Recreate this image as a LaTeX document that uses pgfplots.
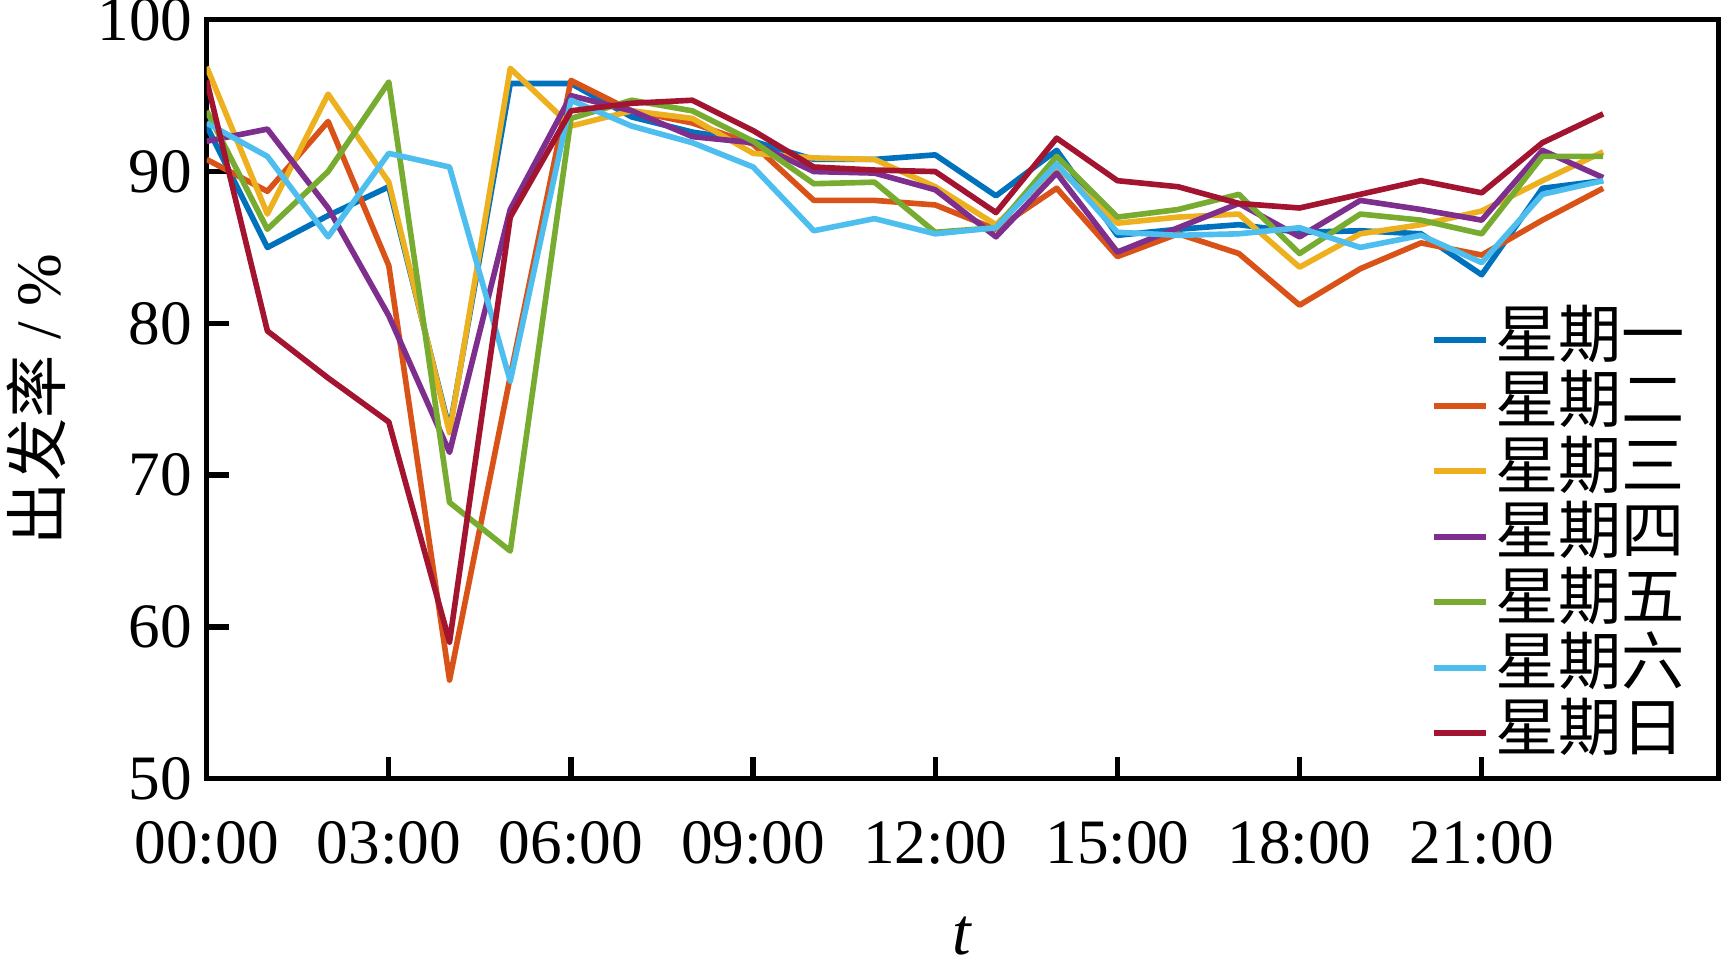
\documentclass[border=0pt]{standalone}
\usepackage{fontspec}
\setmainfont{Liberation Serif}
\newfontfamily\cjk{Noto Sans CJK SC}
\usepackage{pgfplots}
\pgfplotsset{compat=1.18}
\definecolor{cMon}{rgb}{0,0.447,0.741}
\definecolor{cTue}{rgb}{0.85,0.325,0.098}
\definecolor{cWed}{rgb}{0.929,0.694,0.125}
\definecolor{cThu}{rgb}{0.494,0.184,0.556}
\definecolor{cFri}{rgb}{0.466,0.674,0.188}
\definecolor{cSat}{rgb}{0.301,0.745,0.933}
\definecolor{cSun}{rgb}{0.635,0.078,0.184}
\begin{document}
\begin{tikzpicture}
\begin{axis}[
  name=ax,
  scale only axis,
  width=15.12cm, height=7.59cm,
  xmin=0, xmax=24.9, ymin=50, ymax=100,
  xtick={0,3,6,9,12,15,18,21},
  xticklabels={00:00,03:00,06:00,09:00,12:00,15:00,18:00,21:00},
  ytick={50,60,70,80,90,100},
  tick align=inside,
  xtick pos=bottom, ytick pos=left,
  major tick length=0.22cm,
  axis line style={line width=1.5pt},
  every tick/.style={black, line width=1.5pt},
  /pgf/number format/assume math mode=true,
  tick label style={font=\fontsize{18}{21}\selectfont},
  xticklabel style={yshift=-0.3cm},
  yticklabel style={xshift=-0.02cm},
  xlabel={\textit{t}},
  xlabel style={at={(axis description cs:0.5,0)}, anchor=base, yshift=-1.76cm, font=\fontsize{19}{22}\selectfont},
  ylabel={{\cjk 出发率} / \%},
  ylabel style={at={(axis description cs:-0.1124,0.5)}, anchor=center, rotate=0, font=\fontsize{18}{21}\selectfont},
  legend style={draw=none, fill=none, at={(rel axis cs:1,0)}, anchor=south east, xshift=-0.15cm, yshift=0.05cm,
    font=\cjk\fontsize{18}{20}\selectfont, row sep=0pt,
    nodes={inner ysep=0pt, text height=0.5cm, text depth=0.155cm}},
  legend cell align=left,
  legend image code/.code={\draw[#1, line width=1.6pt] (0cm,0cm) -- (0.52cm,0cm);},
  every axis plot/.append style={line width=1.6pt, line join=round},
  clip=true,
]
\addplot[cMon] coordinates {(0,93) (1,85) (2,87.1) (3,89) (4,73) (5,95.8) (6,95.8) (7,93.6) (8,92.6) (9,92) (10,90.8) (11,90.8) (12,91.1) (13,88.4) (14,91.4) (15,85.8) (16,86.2) (17,86.5) (18,86) (19,86.1) (20,85.9) (21,83.2) (22,88.9) (23,89.4)};
\addlegendentry{星期一}
\addplot[cTue] coordinates {(0,90.8) (1,88.7) (2,93.3) (3,83.8) (4,56.5) (5,76.5) (6,96) (7,94) (8,93.2) (9,91.8) (10,88.1) (11,88.1) (12,87.8) (13,86.2) (14,88.9) (15,84.4) (16,85.9) (17,84.6) (18,81.2) (19,83.6) (20,85.3) (21,84.5) (22,86.8) (23,88.9)};
\addlegendentry{星期二}
\addplot[cWed] coordinates {(0,96.9) (1,87.2) (2,95.1) (3,89.3) (4,72.8) (5,96.8) (6,93) (7,94) (8,93.5) (9,91.2) (10,90.9) (11,90.8) (12,89) (13,86.5) (14,90.3) (15,86.6) (16,87) (17,87.2) (18,83.7) (19,85.9) (20,86.5) (21,87.4) (22,89.4) (23,91.3)};
\addlegendentry{星期三}
\addplot[cThu] coordinates {(0,92) (1,92.8) (2,87.6) (3,80.5) (4,71.5) (5,87.5) (6,95) (7,94) (8,92.3) (9,91.9) (10,90) (11,89.9) (12,88.8) (13,85.7) (14,89.9) (15,84.7) (16,86.3) (17,87.9) (18,85.7) (19,88.1) (20,87.5) (21,86.8) (22,91.4) (23,89.6)};
\addlegendentry{星期四}
\addplot[cFri] coordinates {(0,94) (1,86.2) (2,90) (3,95.9) (4,68.2) (5,65) (6,93.5) (7,94.7) (8,94) (9,92) (10,89.2) (11,89.3) (12,86) (13,86.3) (14,91) (15,87) (16,87.5) (17,88.5) (18,84.6) (19,87.2) (20,86.8) (21,85.9) (22,91) (23,91)};
\addlegendentry{星期五}
\addplot[cSat] coordinates {(0,93.2) (1,91) (2,85.7) (3,91.2) (4,90.3) (5,76.2) (6,94.7) (7,93) (8,91.9) (9,90.3) (10,86.1) (11,86.9) (12,85.9) (13,86.3) (14,90.5) (15,86) (16,85.8) (17,85.9) (18,86.3) (19,85) (20,85.8) (21,84) (22,88.5) (23,89.4)};
\addlegendentry{星期六}
\addplot[cSun] coordinates {(0,96) (1,79.5) (2,76.4) (3,73.5) (4,59) (5,87) (6,94) (7,94.5) (8,94.7) (9,92.7) (10,90.3) (11,90.1) (12,90) (13,87.3) (14,92.2) (15,89.4) (16,89) (17,87.9) (18,87.6) (19,88.5) (20,89.4) (21,88.6) (22,91.9) (23,93.8)};
\addlegendentry{星期日}
\end{axis}
\pgfresetboundingbox
\path ([xshift=-2.067cm,yshift=-1.805cm]ax.south west) rectangle ([xshift=0.055cm,yshift=0.198cm]ax.north east);
\end{tikzpicture}
\end{document}
